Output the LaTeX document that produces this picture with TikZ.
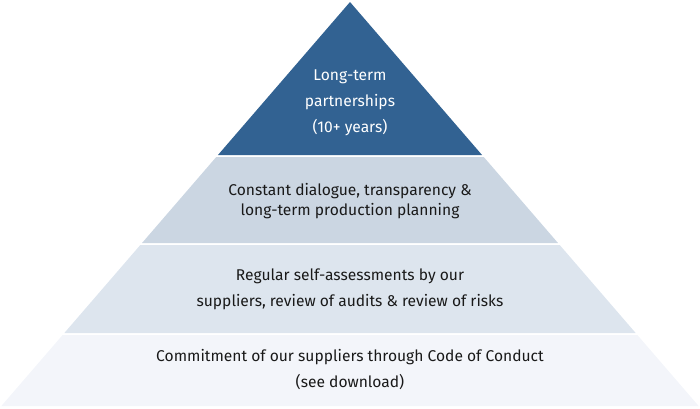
\documentclass[tikz,border=0pt]{standalone}
\usepackage{fontspec}
\setmainfont{Fira Sans}
\usepackage{xcolor}
\definecolor{topblue}{RGB}{50,98,146}
\definecolor{layertwo}{RGB}{203,214,226}
\definecolor{layerthree}{RGB}{221,229,238}
\definecolor{layerfour}{RGB}{243,245,250}
\definecolor{textdark}{RGB}{25,25,25}
\usepackage{tikz}
\usetikzlibrary{calc}
\newcommand{\apexx}{350}
\newcommand{\apexy}{2}
\newcommand{\slope}{0.863}
% one slice of the pyramid between two heights
\newcommand{\layer}[3]{%
  \fill[#3] ({\apexx-\slope*(#1-\apexy)},#1) -- ({\apexx+\slope*(#1-\apexy)},#1)
    -- ({\apexx+\slope*(#2-\apexy)},#2) -- ({\apexx-\slope*(#2-\apexy)},#2) -- cycle;}
\tikzset{
    label/.style={align=center, text=textdark, inner sep=0pt, font=\fontsize{15.6}{26}\selectfont},
    toplabel/.style={label, text=white},
    tightlabel/.style={label, font=\fontsize{15.6}{20}\selectfont}
}
\begin{document}
\begin{tikzpicture}[x=1pt, y=-1pt]
    \useasboundingbox (0,0) rectangle (700,408);
    \layer{2}{155}{topblue}
    \layer{157}{243}{layertwo}
    \layer{245}{333}{layerthree}
    \layer{335}{406}{layerfour}

    \node[toplabel] (partner) at (350,103) {Long-term\\partnerships\\(10+ years)};
    \node[tightlabel] (dialogue) at (350,201) {Constant dialogue, transparency \&\\long-term production planning};
    \node[label] (assess) at (350,289) {Regular self-assessments by our\\suppliers, review of audits \& review of risks};
    \node[label] (commit) at (350,370) {Commitment of our suppliers through Code of Conduct\\(see download)};
\end{tikzpicture}
\end{document}
